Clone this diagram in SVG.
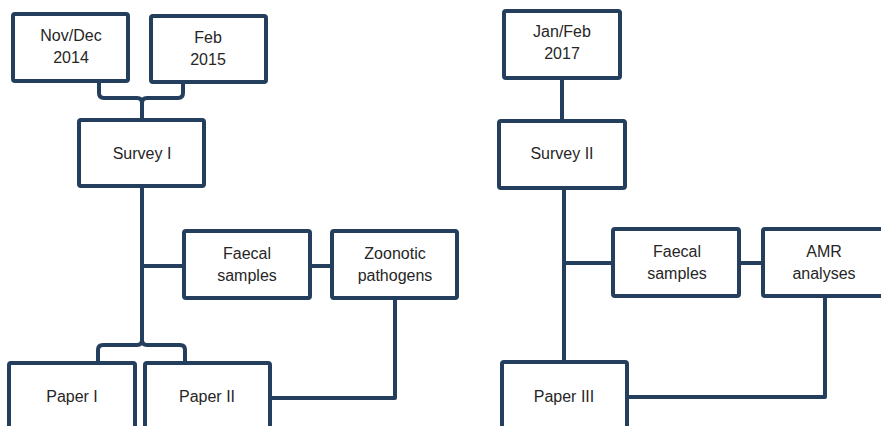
<svg xmlns="http://www.w3.org/2000/svg" width="881" height="426" viewBox="0 0 881 426">
<style>
.box{fill:#fff;stroke:#243e5e;stroke-width:4;stroke-linejoin:round}
.ln{fill:none;stroke:#243e5e;stroke-width:4;stroke-linejoin:round}
text{font-family:"Liberation Sans",Arial,sans-serif;font-size:16px;fill:#262626;text-anchor:middle}
</style>
<rect width="881" height="426" fill="#fff"/>
<g id="connectors">
<path class="ln" d="M99 81 V93 Q99 98 104 98 H137 Q142 98 142 103 V120 M142 103 Q142 98 147 98 H178 Q183 98 183 93 V81"/>
<path class="ln" d="M142 186 V340 Q142 345 137 345 H103 Q98 345 98 350 V363 M142 340 Q142 345 147 345 H180 Q185 345 185 350 V363"/>
<path class="ln" d="M142 266 H184 M310 266 H332"/>
<path class="ln" d="M395 298 V398 H270"/>
<path class="ln" d="M562 78 V121"/>
<path class="ln" d="M564 188 V362 M564 263 H613 M739 263 H763"/>
<path class="ln" d="M825 296 V397 H627"/>
</g>
<g id="novdec"><rect class="box" x="13" y="14" width="115" height="67" rx="2"/><text x="71" y="41">Nov/Dec</text><text x="71" y="63">2014</text></g>
<g id="feb2015"><rect class="box" x="151" y="16" width="115" height="66" rx="2"/><text x="208" y="43">Feb</text><text x="208" y="65">2015</text></g>
<g id="survey1"><rect class="box" x="79" y="120" width="125" height="66" rx="2"/><text x="142" y="159">Survey I</text></g>
<g id="faecal1"><rect class="box" x="184" y="231" width="126" height="67" rx="2"/><text x="247" y="259">Faecal</text><text x="247" y="281">samples</text></g>
<g id="zoonotic"><rect class="box" x="332" y="231" width="125" height="67" rx="2"/><text x="395" y="259">Zoonotic</text><text x="395" y="281">pathogens</text></g>
<g id="paper1"><rect class="box" x="9" y="363" width="126" height="80" rx="2"/><text x="72" y="402">Paper I</text></g>
<g id="paper2"><rect class="box" x="145" y="363" width="125" height="80" rx="2"/><text x="207" y="402">Paper II</text></g>
<g id="janfeb"><rect class="box" x="504" y="11" width="116" height="67" rx="2"/><text x="562" y="37">Jan/Feb</text><text x="562" y="59">2017</text></g>
<g id="survey2"><rect class="box" x="499" y="121" width="126" height="67" rx="2"/><text x="562" y="159">Survey II</text></g>
<g id="faecal2"><rect class="box" x="613" y="229" width="126" height="67" rx="2"/><text x="677" y="257">Faecal</text><text x="677" y="279">samples</text></g>
<g id="amr"><rect class="box" x="763" y="229" width="130" height="67" rx="2"/><text x="824" y="257">AMR</text><text x="824" y="279">analyses</text></g>
<g id="paper3"><rect class="box" x="502" y="362" width="125" height="80" rx="2"/><text x="564" y="402">Paper III</text></g>
</svg>
